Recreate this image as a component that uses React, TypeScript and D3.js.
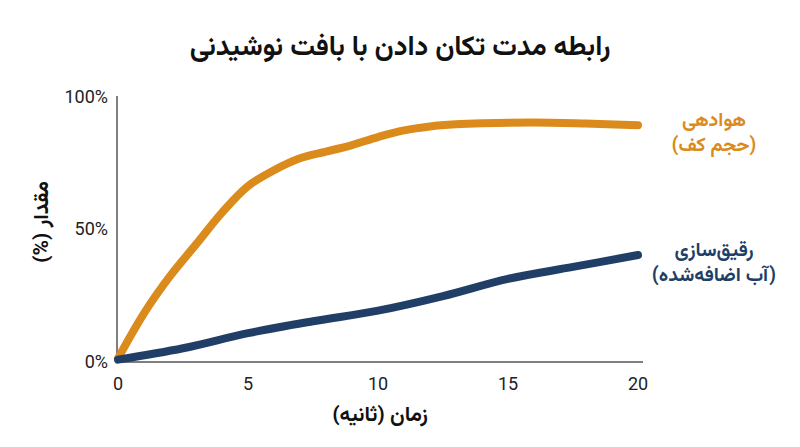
import React from "react";
import * as d3 from "d3";

const title = "رابطه مدت تکان دادن با بافت نوشیدنی";
const xLabel = "زمان (ثانیه)";
const yLabel = "مقدار (%)";

const xTicks = [0, 5, 10, 15, 20];
const yTicks = [0, 50, 100];

const foamTime = [0, 1, 2, 3, 4, 5, 6, 7, 8, 9, 10, 11, 12, 13, 14, 16, 18, 20];
const foamValue = [1, 18, 32, 44, 56, 66, 72, 76.5, 79, 81.5, 84.5, 87, 88.5, 89.3, 89.7, 90, 89.6, 89];
const foamLabel = ["هوادهی", "(حجم کف)"];

const diluteTime = [0, 2.5, 5, 7.5, 10, 12.5, 15, 17.5, 20];
const diluteValue = [0.5, 4.8, 10.5, 15, 19, 24.5, 31, 35.5, 40];
const diluteLabel = ["رقیق‌سازی", "(آب اضافه‌شده)"];

const W = 800;
const H = 447;
const ORANGE = "#DA8B1B";
const BLUE = "#213F66";
const FA = "Vazirmatn, 'Noto Sans Arabic', 'DejaVu Sans', sans-serif";
const NUM = "Roboto, 'Noto Sans', sans-serif";

export default function App() {
  const x = d3.scaleLinear().domain([0, 20]).range([118, 638]);
  const y = d3.scaleLinear().domain([0, 100]).range([361, 96]);

  const line = d3
    .line<[number, number]>()
    .x((d) => x(d[0]))
    .y((d) => y(d[1]))
    .curve(d3.curveCatmullRom.alpha(0.5));

  const foam = foamTime.map((t, i) => [t, foamValue[i]] as [number, number]);
  const dilute = diluteTime.map((t, i) => [t, diluteValue[i]] as [number, number]);

  const x0 = x(0) - 1;
  const yBase = y(0) + 1;

  return (
    <svg
      width={W}
      height={H}
      style={{ position: "absolute", left: 0, top: 0, background: "#fff" }}
    >
      <rect width={W} height={H} fill="#fff" />
      <text
        x={400}
        y={55}
        textAnchor="middle"
        direction="rtl"
        fontFamily={FA}
        fontWeight={700}
        fontSize={27.5}
        fill="#111"
      >
        {title}
      </text>

      {/* axes */}
      <line x1={x0} x2={x0} y1={96} y2={yBase} stroke="#555" strokeWidth={1.5} />
      <line x1={x0} x2={643} y1={yBase} y2={yBase} stroke="#555" strokeWidth={1.5} />

      {yTicks.map((t) => (
        <text
          key={t}
          x={108}
          y={y(t) + 6.5}
          textAnchor="end"
          fontFamily={NUM}
          fontSize={18}
          fill="#222"
        >
          {t}%
        </text>
      ))}
      {xTicks.map((t) => (
        <text
          key={t}
          x={x(t)}
          y={390}
          textAnchor="middle"
          fontFamily={NUM}
          fontSize={18}
          fill="#222"
        >
          {t}
        </text>
      ))}

      <text
        x={380}
        y={421}
        textAnchor="middle"
        direction="rtl"
        fontFamily={FA}
        fontWeight={700}
        fontSize={21}
        fill="#111"
      >
        {xLabel}
      </text>
      <text
        transform={`translate(48,222) rotate(-90)`}
        textAnchor="middle"
        direction="rtl"
        fontFamily={FA}
        fontWeight={700}
        fontSize={21}
        fill="#111"
      >
        {yLabel}
      </text>

      <path
        d={line(foam) || ""}
        fill="none"
        stroke={ORANGE}
        strokeWidth={8}
        strokeLinecap="round"
        strokeLinejoin="round"
      />
      <path
        d={line(dilute) || ""}
        fill="none"
        stroke={BLUE}
        strokeWidth={8}
        strokeLinecap="round"
        strokeLinejoin="round"
      />

      {foamLabel.map((s, i) => (
        <text
          key={s}
          x={714}
          y={126 + i * 25}
          textAnchor="middle"
          direction="rtl"
          fontFamily={FA}
          fontWeight={700}
          fontSize={19.5}
          fill={ORANGE}
        >
          {s}
        </text>
      ))}
      {diluteLabel.map((s, i) => (
        <text
          key={s}
          x={714}
          y={256 + i * 25}
          textAnchor="middle"
          direction="rtl"
          fontFamily={FA}
          fontWeight={700}
          fontSize={19.5}
          fill={BLUE}
        >
          {s}
        </text>
      ))}
    </svg>
  );
}
